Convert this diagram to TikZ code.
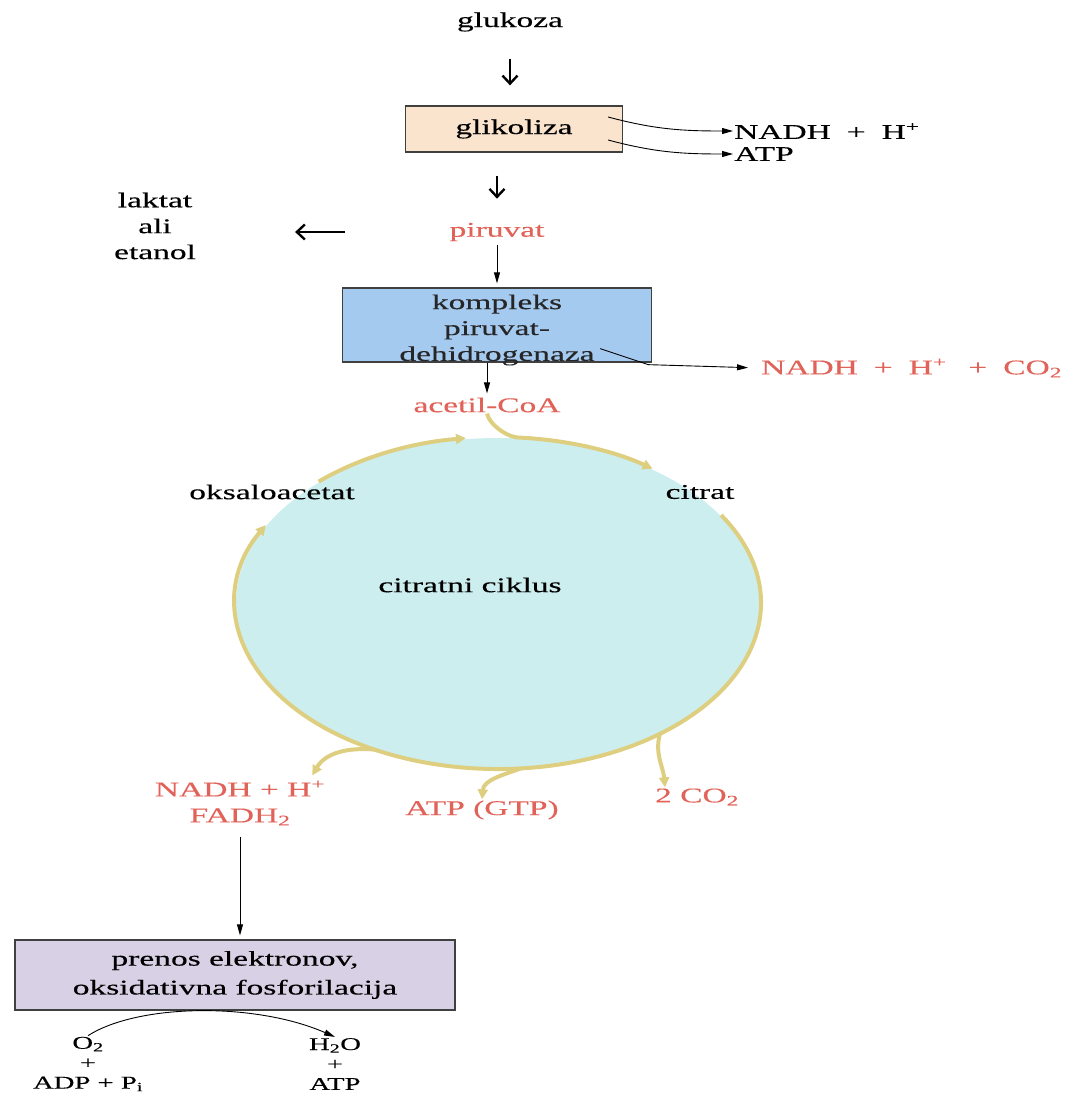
\documentclass[tikz,border=0pt]{standalone}
\usepackage{fontspec}
\setmainfont{Liberation Serif}[FakeStretch=1.6, FakeBold=0.3]
\usetikzlibrary{arrows.meta, calc, positioning}
\definecolor{peach}{RGB}{250,228,206}
\definecolor{paleblue}{RGB}{165,202,240}
\definecolor{lavender}{RGB}{216,208,228}
\definecolor{cyclecyan}{RGB}{204,238,238}
\definecolor{ringyellow}{RGB}{222,206,128}
\definecolor{redtext}{RGB}{224,98,88}

\newcommand{\plus}{\hspace{16pt}+\hspace{16pt}}

\tikzset{
  txt/.style={font=\fontsize{21}{26}\selectfont, inner sep=1pt, align=center},
  redtxt/.style={txt, text=redtext},
  small/.style={txt, font=\fontsize{18}{20}\selectfont},
  box/.style={txt, draw=black!75, line width=1.3pt, inner sep=0pt},
  fat/.style={-{Straight Barb[length=8pt,width=15pt]}, line width=2.4pt},
  thin/.style={->, line width=0.9pt},
  ring/.style={ringyellow, line width=4pt},
  ringarrow/.style={ring, -{Triangle[length=10pt,width=10pt]}},
}

\begin{document}
\begin{tikzpicture}[> = {Triangle[length=11pt,width=6pt]}, x=1bp, y=1bp]
	\useasboundingbox (0,0) rectangle (1084,-1097);

	% glycolysis
	\node[txt] (glukoza) at (510,-22) {glukoza};
	\node[box, fill=peach, minimum width=217bp, minimum height=46bp] (glikoliza) at (514,-129) {glikoliza};
	\node[txt, anchor=west] (nadhA) at (733,-131) {NADH\plus H\textsuperscript{+}};
	\node[txt, anchor=west] (atpA) at (733,-154) {ATP};
	\draw[fat, shorten <=26bp, shorten >=20bp] (glukoza.south) -- (glukoza.south |- glikoliza.north);
	\draw[thin] ($(glikoliza.east)+(-15,12)$) to[out=-15,in=180] (nadhA.west);
	\draw[thin] ($(glikoliza.east)+(-15,-11)$) to[out=-15,in=180] (atpA.west);

	\node[redtxt] (piruvat) at (497,-232) {piruvat};
	\node[txt] (laktat) at (155,-226) {laktat\\ali\\etanol};
	\draw[fat, shorten <=23bp, shorten >=23bp] (piruvat.north |- glikoliza.south) -- (piruvat.north);
	\draw[fat, shorten <=103bp, shorten >=98bp] (piruvat.west) -- (piruvat.west -| laktat.east);

	% pyruvate dehydrogenase
	\node[box, fill=paleblue, minimum width=309bp, minimum height=74bp] (pdh) at (497,-325) {};
	\node[txt, text=black!85] (pdhText) at ($(pdh.center)+(0,-5)$) {kompleks\\piruvat-\\dehidrogenaza};
	\node[redtxt, anchor=west] (nadhB) at (760,-368) {NADH\plus H\textsuperscript{+}\hspace{6pt}\plus CO\textsubscript{2}};
	\node[redtxt] (acetil) at (487,-405) {acetil-CoA};
	\draw[thin, shorten <=3bp, shorten >=4bp] (piruvat.south -| pdh.north) -- (pdh.north);
	\draw[thin, shorten >=12bp] ($(pdh.south east)+(-52,14)$) -- ($(pdh.south east)+(-4,-2)$) -- (nadhB.west);
	\draw[thin, shorten >=3bp] (acetil.north |- pdh.south) -- (acetil.north);

	% citric acid cycle
	\coordinate (cc) at (498,-603);
	\fill[cyclecyan] (cc) ellipse [x radius=262bp, y radius=165bp];
	\node[txt] (cycle) at (470,-585) {citratni ciklus};
	\node[txt] (oksalo) at (272,-492) {oksaloacetat};
	\node[txt] (citrat) at (700,-492) {citrat};

	\draw[ringarrow] ($(cc)+(32:263bp and 166bp)$) arc[start angle=32, end angle=-208, x radius=263bp, y radius=166bp];
	\draw[ringarrow] ($(cc)+(133:263bp and 166bp)$) arc[start angle=133, end angle=97, x radius=263bp, y radius=166bp];
	\draw[ringarrow] (acetil.south) .. controls +(2,-10) and +(-12,2) .. ($(cc)+(86:263bp and 166bp)$) arc[start angle=86, end angle=54, x radius=263bp, y radius=166bp];

	\node[redtxt] (nadhC) at (240,-803) {NADH + H\textsuperscript{+}\\FADH\textsubscript{2}};
	\node[redtxt] (atpC) at (482,-810) {ATP (GTP)};
	\node[redtxt] (co2) at (697,-797) {2 CO\textsubscript{2}};
	\draw[ringarrow] ($(cc)+(-118:263bp and 166bp)$) to[out=175,in=60] ($(nadhC.north east)+(-14,4)$);
	\draw[ringarrow] ($(cc)+(-85:263bp and 166bp)$) to[out=200,in=85] (atpC.north);
	\draw[ringarrow] ($(cc)+(-52:263bp and 166bp)$) to[out=-105,in=95] ($(co2.north)+(-32,0)$);

	% electron transport
	\node[box, fill=lavender, minimum width=440bp, minimum height=70bp, font=\fontsize{21}{29}\selectfont] (elektron) at (235,-975) {prenos elektronov,\\oksidativna fosforilacija};
	\draw[thin, shorten <=10bp, shorten >=4bp] (nadhC.south) -- (nadhC.south |- elektron.north);

	\node[small] (reactL) at (88,-1064) {O\textsubscript{2}\\+\\ADP + P\textsubscript{i}};
	\node[small] (reactR) at (335,-1064) {H\textsubscript{2}O\\+\\ATP};
	\draw[thin] (reactL.north) .. controls +(50,32) and +(-80,35) .. (reactR.north);
\end{tikzpicture}
\end{document}
